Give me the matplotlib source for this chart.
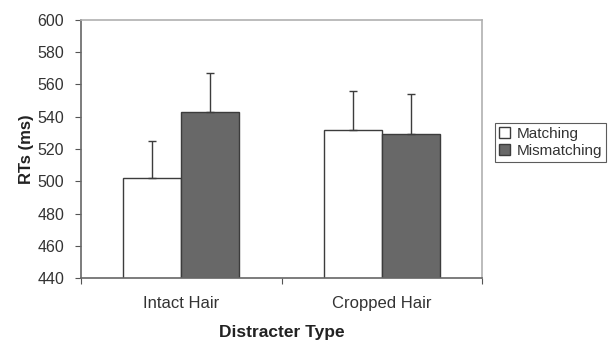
import matplotlib
matplotlib.use('Agg')
import matplotlib.pyplot as plt
import numpy as np

plt.rcParams['font.family'] = ['Liberation Sans', 'DejaVu Sans']

categories = ['Intact Hair', 'Cropped Hair']
series = ['Matching', 'Mismatching']
matching = [502, 532]
mismatching = [543, 529]
matching_err = [23, 24]
mismatching_err = [24, 25]

fig = plt.figure(figsize=(6.11, 3.43), dpi=100)
ax = fig.add_axes([0.1326, 0.1895, 0.6564, 0.7522])

x = np.arange(len(categories))
w = 0.29
edge = '#3c3c3c'
ax.bar(x - w/2, matching, w, color='white', edgecolor=edge, linewidth=1.0,
       label=series[0], zorder=2)
ax.bar(x + w/2, mismatching, w, color='#686868', edgecolor=edge, linewidth=1.0,
       label=series[1], zorder=2)
ax.errorbar(x - w/2, matching, yerr=[np.zeros(2), matching_err], fmt='none',
            ecolor=edge, elinewidth=1.0, capsize=3, capthick=1.0, zorder=3)
ax.errorbar(x + w/2, mismatching, yerr=[np.zeros(2), mismatching_err], fmt='none',
            ecolor=edge, elinewidth=1.0, capsize=3, capthick=1.0, zorder=3)

ax.set_ylim(440, 600)
ax.set_xlim(-0.5, 1.5)
ax.set_yticks(np.arange(440, 601, 20))
ax.set_xticks([-0.5, 0.5, 1.5])
ax.set_xticklabels([])
ax.set_xticks(x, minor=True)
ax.set_xticklabels(categories, minor=True)
ax.tick_params(axis='x', which='minor', length=0, pad=13, labelsize=12, labelcolor='#333333')
ax.tick_params(axis='x', which='major', length=4, color='#555555', direction='out')
ax.tick_params(axis='y', length=4, color='#555555', labelsize=11.5, labelcolor='#333333', pad=8)

for s in ['left', 'bottom']:
    ax.spines[s].set_color('#666666')
    ax.spines[s].set_linewidth(1.2)
for s in ['top', 'right']:
    ax.spines[s].set_color('#b0b0b0')
    ax.spines[s].set_linewidth(1.2)

ax.set_ylabel('RTs (ms)', fontweight='bold', fontsize=12, color='#222222')
ax.yaxis.set_label_coords(-0.118, 0.5)
ax.set_xlabel('Distracter Type', fontweight='bold', fontsize=12.5, color='#222222')
ax.xaxis.set_label_coords(0.5, -0.182)

leg = fig.legend(loc='upper left', bbox_to_anchor=(0.81, 0.641), frameon=True, fancybox=False,
                 fontsize=11, handlelength=0.75, handleheight=0.75, handletextpad=0.4,
                 borderpad=0.25, labelspacing=0.2, borderaxespad=0)
leg.get_frame().set_edgecolor('#333333')
leg.get_frame().set_linewidth(0.8)
for t in leg.get_texts():
    t.set_color('#333333')

fig.savefig('out.png', dpi=100)
